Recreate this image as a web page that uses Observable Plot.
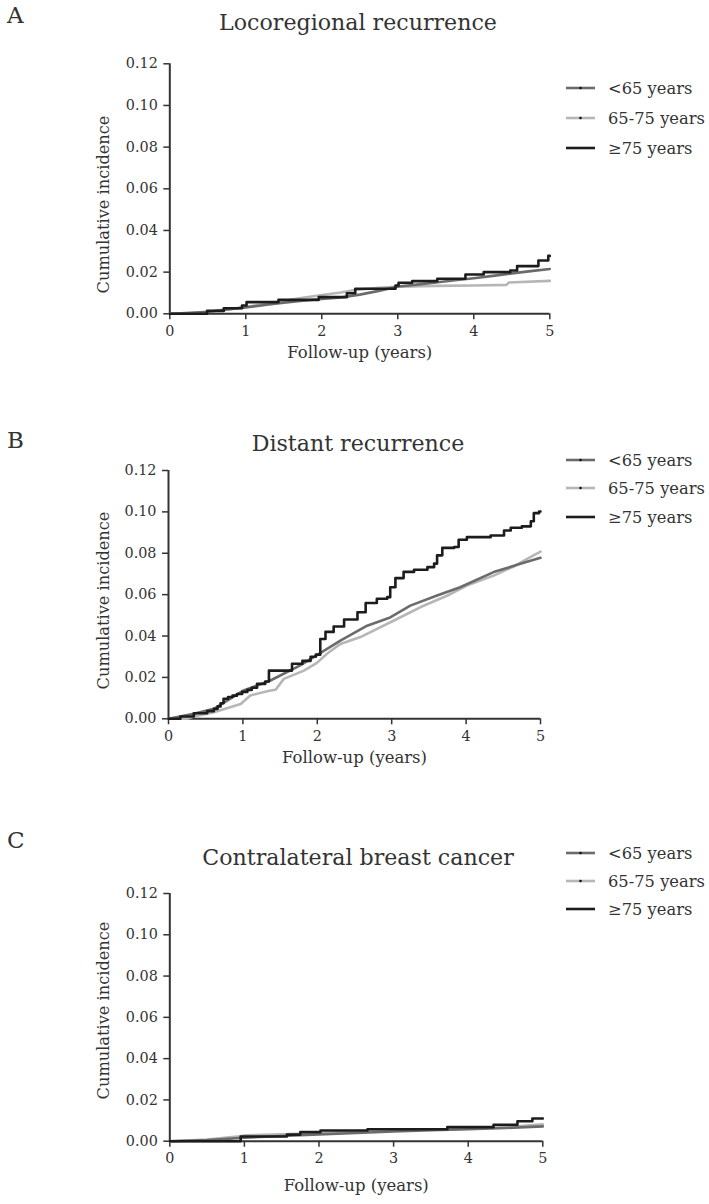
<!DOCTYPE html>
<html>
<head>
<meta charset="utf-8">
<script src="https://cdn.jsdelivr.net/npm/d3@7"></script>
<script src="https://cdn.jsdelivr.net/npm/@observablehq/plot@0.6"></script>
<style>
  html, body { margin: 0; padding: 0; background: #fff; }
  #wrap { position: relative; width: 709px; height: 1204px; font-family: "DejaVu Serif", "Liberation Serif", serif; color: #333; }
  .abs { position: absolute; white-space: nowrap; }
  .letter { font-size: 23px; line-height: 1; }
  .title { line-height: 1; transform: translate(-50%, -50%); }
  .legrow { position: absolute; left: 566px; height: 20px; display: flex; align-items: center; transform: translateY(-50%); }
  .legrow svg { display: block; margin-right: 13px; }
</style>
</head>
<body>
<div id="wrap"></div>
<script>
// ---- Data ----
const groups = ["<65 years", "65-75 years", "≥75 years"];
const groupColors = ["#6b6b6b", "#b6b6b6", "#1c1c1c"];
const yTicks = [0, 0.02, 0.04, 0.06, 0.08, 0.10, 0.12];
const xTicks = [0, 1, 2, 3, 4, 5];
const panelLetters = ["A", "B", "C"];
const panelTitles = ["Locoregional recurrence", "Distant recurrence", "Contralateral breast cancer"];
const yLabel = "Cumulative incidence";
const xLabel = "Follow-up (years)";

// Panel A: locoregional recurrence, [years, cumulative incidence]
const locoUnder65 = [[0,0],[0.25,0.0004],[0.5,0.001],[0.75,0.0021],[1.0,0.0031],[1.25,0.0042],[1.5,0.0053],[1.75,0.0063],[2.0,0.0071],[2.25,0.0078],[2.5,0.0092],[2.75,0.011],[3.0,0.0131],[3.25,0.014],[3.5,0.015],[3.75,0.0161],[4.0,0.0171],[4.25,0.0182],[4.5,0.0194],[4.75,0.0205],[5.0,0.0215]];
const loco65to75 = [[0,0],[0.5,0.0009],[0.75,0.002],[1.0,0.0033],[1.25,0.0047],[1.5,0.0062],[1.75,0.0077],[2.0,0.009],[2.25,0.0102],[2.45,0.0115],[2.75,0.0125],[3.0,0.013],[3.5,0.0134],[4.0,0.0136],[4.43,0.0139],[4.46,0.015],[5.0,0.0158]];
const locoOver75 = [[0,0],[0.49,0.0014],[0.71,0.0027],[0.95,0.004],[1.01,0.0056],[1.43,0.0067],[1.96,0.008],[2.33,0.0099],[2.44,0.012],[2.97,0.0136],[3.01,0.0149],[3.19,0.0157],[3.52,0.0168],[3.89,0.0189],[4.13,0.02],[4.48,0.0208],[4.57,0.0229],[4.85,0.0256],[4.98,0.0278],[5.0,0.0278]];

// Panel B: distant recurrence
const distUnder65 = [[0,0],[0.34,0.0024],[0.61,0.0048],[0.8,0.009],[1.01,0.0137],[1.37,0.0185],[1.77,0.0258],[1.99,0.0306],[2.31,0.0378],[2.67,0.045],[2.98,0.049],[3.25,0.0547],[3.61,0.0596],[3.92,0.0636],[4.37,0.0709],[4.73,0.0749],[5.0,0.0778]];
const dist65to75 = [[0,0],[0.25,0],[0.34,0.0011],[0.61,0.0032],[0.97,0.0072],[1.1,0.0113],[1.37,0.0137],[1.44,0.014],[1.55,0.0193],[1.82,0.0233],[1.99,0.0269],[2.13,0.0314],[2.31,0.0362],[2.58,0.0395],[3.03,0.0475],[3.39,0.054],[3.75,0.0596],[4.01,0.0644],[4.37,0.0692],[4.64,0.0736],[4.82,0.0773],[5.0,0.0808]];
const distOver75 = [[0,0],[0.16,0.0011],[0.34,0.0027],[0.52,0.0037],[0.61,0.0048],[0.66,0.006],[0.70,0.0075],[0.74,0.0097],[0.80,0.0105],[0.86,0.0112],[0.92,0.012],[0.99,0.013],[1.06,0.014],[1.12,0.015],[1.19,0.0169],[1.30,0.018],[1.35,0.0233],[1.66,0.0266],[1.80,0.028],[1.91,0.03],[1.98,0.031],[2.04,0.0386],[2.11,0.042],[2.22,0.0446],[2.36,0.048],[2.54,0.0515],[2.65,0.056],[2.80,0.058],[2.94,0.0588],[2.98,0.0636],[3.05,0.068],[3.16,0.071],[3.30,0.072],[3.48,0.0733],[3.57,0.075],[3.61,0.079],[3.68,0.0826],[3.84,0.083],[3.90,0.0865],[4.01,0.0878],[4.33,0.0886],[4.51,0.091],[4.60,0.0923],[4.75,0.093],[4.87,0.0955],[4.91,0.0994],[4.98,0.1002],[5.0,0.1002]];

// Panel C: contralateral breast cancer
const contraUnder65 = [[0,0],[0.5,0.0005],[1.0,0.0017],[1.5,0.0025],[2.0,0.0033],[2.5,0.004],[3.0,0.0047],[3.5,0.0053],[4.0,0.0058],[4.5,0.0064],[5.0,0.0072]];
const contra65to75 = [[0,0],[0.5,0.0008],[0.9,0.0022],[1.0,0.0028],[1.5,0.0033],[2.0,0.004],[2.5,0.0047],[3.0,0.0052],[3.5,0.0056],[4.0,0.006],[4.5,0.0068],[5.0,0.0082]];
const contraOver75 = [[0,0],[0.90,0],[0.95,0.0023],[1.57,0.0032],[1.75,0.0044],[2.02,0.0052],[2.65,0.0058],[3.72,0.0068],[4.34,0.008],[4.66,0.0097],[4.86,0.011],[5.0,0.011]];

const panelSeries = [
  [locoUnder65, loco65to75, locoOver75],
  [distUnder65, dist65to75, distOver75],
  [contraUnder65, contra65to75, contraOver75]
];

// ---- Layout / style ----
const FONT = "DejaVu Serif";
const ctx = document.createElement("canvas").getContext("2d");
function fitSize(text, target) {
  ctx.font = `20px "${FONT}"`;
  const w = ctx.measureText(text).width || 1;
  return 20 * target / w;
}
const titleSize = fitSize(panelTitles[0], 278);
const yLabSize = fitSize(yLabel, 178);
const xLabSize = fitSize(xLabel, 145);
const legSize = fitSize(groups[1], 97);
const tickSize = fitSize("0.12", 32);

const layout = [
  {top: 0,   height: 380, x0: 169.3, x5: 549.3, yTop: 63.3, yBot: 313.3, letterY: 8,   titleY: 22,  yLabY: 204, xLabDy: 39, leg: [88, 118, 148]},
  {top: 400, height: 380, x0: 168,   x5: 540,   yTop: 70,   yBot: 318.3, letterY: 433, titleY: 443, yLabY: 600, xLabDy: 39, leg: [460, 488, 517]},
  {top: 800, height: 404, x0: 169.3, x5: 542.3, yTop: 93,   yBot: 340.7, letterY: 833, titleY: 857, yLabY: 1010, xLabDy: 45, leg: [853, 881, 909]}
];

const wrap = document.getElementById("wrap");
const fmt = d3.format(".2f");

panelSeries.forEach((series, i) => {
  const L = layout[i];
  const rows = [];
  [1, 0, 2].forEach(g => series[g].forEach(([t, v]) => rows.push({t, v, group: groups[g], order: g})));
  const midY = (L.yTop + L.yBot) / 2;
  const plot = Plot.plot({
    width: 709,
    height: L.height,
    marginLeft: L.x0,
    marginRight: 709 - L.x5,
    marginTop: L.yTop,
    marginBottom: L.height - L.yBot,
    style: {fontFamily: `"${FONT}", serif`, fontSize: tickSize + "px", color: "#333", background: "transparent"},
    x: {domain: [0, 5]},
    y: {domain: [0, 0.12]},
    color: {domain: groups, range: groupColors},
    marks: [
      Plot.axisY({ticks: yTicks, tickFormat: fmt, tickSize: 6, tickPadding: 6, strokeWidth: 1.5, label: null, fontSize: tickSize}),
      Plot.axisX({ticks: xTicks, tickFormat: d3.format("d"), tickSize: 6, tickPadding: 6, strokeWidth: 1.5, label: null, fontSize: tickSize}),
      Plot.ruleX([0], {stroke: "#333", strokeWidth: 2}),
      Plot.ruleY([0], {stroke: "#333", strokeWidth: 2}),
      ...[1, 0].map(g => Plot.line(rows.filter(r => r.order === g), {x: "t", y: "v", stroke: "group", strokeWidth: 2.6, curve: "linear"})),
      Plot.line(rows.filter(r => r.order === 2), {x: "t", y: "v", stroke: "group", strokeWidth: 2.6, curve: "step-after"}),
      Plot.text([yLabel], {frameAnchor: "left", textAnchor: "middle", lineAnchor: "middle", dx: -(L.x0 - 103.5), dy: (L.yLabY - L.top) - midY, rotate: -90, fontSize: yLabSize, fill: "#333"}),
      Plot.text([xLabel], {frameAnchor: "bottom", textAnchor: "middle", lineAnchor: "middle", dy: L.xLabDy, fontSize: xLabSize, fill: "#333"})
    ]
  });
  plot.style.position = "absolute";
  plot.style.left = "0px";
  plot.style.top = L.top + "px";
  wrap.appendChild(plot);

  const letter = document.createElement("div");
  letter.className = "abs letter";
  letter.style.left = "7px";
  letter.style.top = (L.letterY - 4) + "px";
  letter.textContent = panelLetters[i];
  wrap.appendChild(letter);

  const title = document.createElement("div");
  title.className = "abs title";
  title.style.left = "358px";
  title.style.top = L.titleY + "px";
  title.style.fontSize = titleSize + "px";
  title.textContent = panelTitles[i];
  wrap.appendChild(title);

  groups.forEach((g, k) => {
    const row = document.createElement("div");
    row.className = "legrow";
    row.style.top = L.leg[k] + "px";
    row.style.fontSize = legSize + "px";
    const dot = k < 2 ? `<circle cx="14.5" cy="5" r="1.3" fill="#111"/>` : "";
    row.innerHTML = `<svg width="29" height="10"><line x1="0" x2="29" y1="5" y2="5" stroke="${groupColors[k]}" stroke-width="2.6"/>${dot}</svg><span>${g}</span>`;
    wrap.appendChild(row);
  });
});
</script>
</body>
</html>
